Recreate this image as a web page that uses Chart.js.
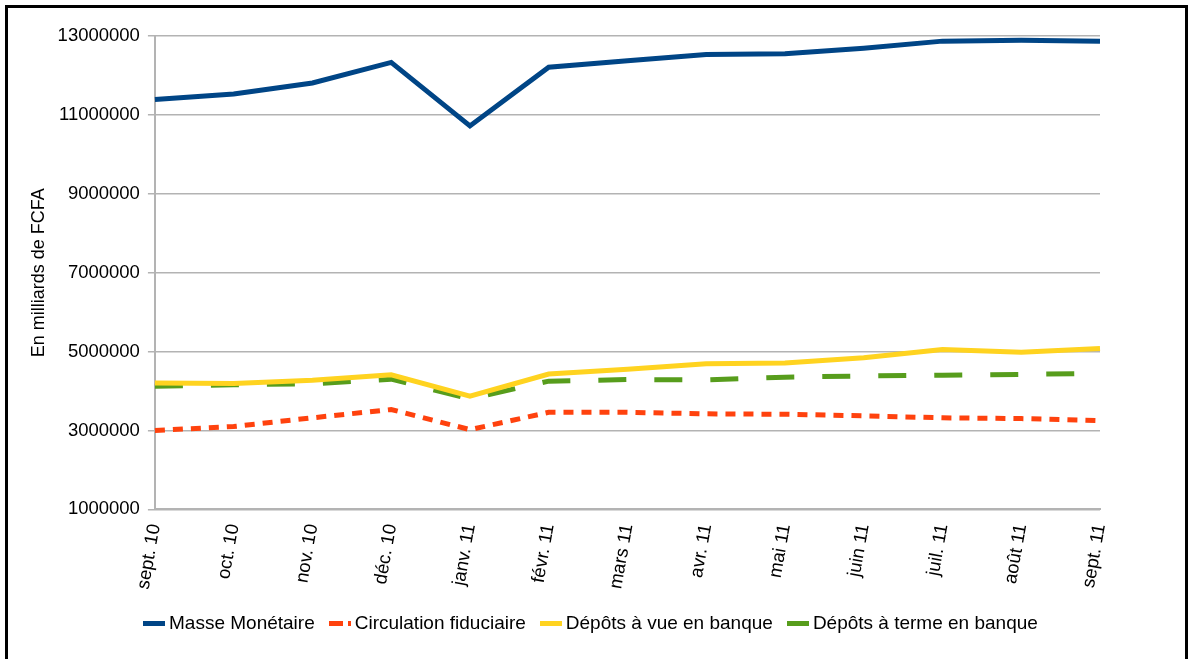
<!DOCTYPE html>
<html>
<head>
<meta charset="utf-8">
<script src="https://cdn.jsdelivr.net/npm/chart.js@4/dist/chart.umd.min.js"></script>
<style>
  html, body { margin: 0; padding: 0; background: #fff; overflow: hidden; }
  #wrap { position: relative; width: 1188px; height: 659px; font-family: "Liberation Sans", Arial, sans-serif; }
  #frame { position: absolute; left: 5px; top: 5px; width: 1177px; height: 700px; border: 3px solid #000; box-sizing: content-box; pointer-events: none; }
  canvas { position: absolute; left: 0; top: 0; }
  #legend { position: absolute; left: 143px; top: 612px; display: flex; align-items: center; font-size: 19px; color: #000; white-space: nowrap; }
  #legend .item { display: flex; align-items: center; margin-right: 14px; }
  #legend .box { width: 22px; height: 5px; margin-right: 4px; }
</style>
</head>
<body>
<div id="wrap">
  <canvas id="moneyChart" width="1188" height="659"></canvas>
  <div id="legend"></div>
  <div id="frame"></div>
</div>
<script>
const months = ['sept. 10', 'oct. 10', 'nov. 10', 'déc. 10', 'janv. 11', 'févr. 11', 'mars 11',
                'avr. 11', 'mai 11', 'juin 11', 'juil. 11', 'août 11', 'sept. 11'];

const masseMonetaire = [11390000, 11530000, 11810000, 12330000, 10720000, 12210000, 12370000,
                        12530000, 12550000, 12690000, 12870000, 12890000, 12870000];
const circulationFiduciaire = [3000000, 3100000, 3320000, 3530000, 3020000, 3460000, 3460000,
                               3420000, 3410000, 3370000, 3320000, 3300000, 3250000];
const depotsVue = [4200000, 4190000, 4270000, 4410000, 3870000, 4430000, 4550000,
                   4690000, 4710000, 4840000, 5050000, 4980000, 5080000];
const depotsTerme = [4120000, 4160000, 4180000, 4300000, 3800000, 4250000, 4290000,
                     4280000, 4350000, 4380000, 4400000, 4420000, 4450000];

const yTicks = [1000000, 3000000, 5000000, 7000000, 9000000, 11000000, 13000000];

Chart.defaults.font.family = '"Liberation Sans", Arial, sans-serif';
Chart.defaults.color = '#000';

function series(label, data, color, dash) {
    return {
        label: label,
        data: data,
        borderColor: color,
        backgroundColor: color,
        borderWidth: 5,
        borderDash: dash,
        borderCapStyle: 'butt',
        pointRadius: 0,
        tension: 0,
        fill: false
    };
}

// legend drawn as html, built from the datasets
function buildLegend(chart) {
    const box = document.getElementById('legend');
    chart.data.datasets.forEach(ds => {
        const item = document.createElement('div');
        item.className = 'item';
        const swatch = document.createElement('span');
        swatch.className = 'box';
        // short dashes show a gap inside the swatch, long ones look solid
        if (ds.borderDash.length && ds.borderDash[0] < 22) {
            swatch.style.background = 'linear-gradient(to right, ' + ds.borderColor + ' 0 14px, transparent 14px 19px, ' + ds.borderColor + ' 19px 22px)';
        } else {
            swatch.style.background = ds.borderColor;
        }
        const txt = document.createElement('span');
        txt.textContent = ds.label;
        item.appendChild(swatch);
        item.appendChild(txt);
        box.appendChild(item);
    });
}

const ctx = document.getElementById('moneyChart').getContext('2d');
const chart = new Chart(ctx, {
    type: 'line',
    data: {
        labels: months,
        datasets: [
            series('Masse Monétaire', masseMonetaire, '#004586', []),
            series('Circulation fiduciaire', circulationFiduciaire, '#ff420e', [10, 8]),
            series('Dépôts à vue en banque', depotsVue, '#ffd320', []),
            series('Dépôts à terme en banque', depotsTerme, '#579d1c', [28, 28])
        ]
    },
    options: {
        responsive: false,
        animation: false,
        layout: { padding: { left: 28, right: 88, top: 36, bottom: 62 } },
        plugins: {
            legend: { display: false },
            tooltip: { enabled: false }
        },
        scales: {
            x: {
                offset: false,
                grid: { display: false, drawTicks: true, tickLength: 7, tickColor: '#b3b3b3' },
                border: { color: '#b3b3b3', width: 2 },
                ticks: {
                    font: { size: 18.5 },
                    minRotation: 80,
                    maxRotation: 80,
                    autoSkip: false,
                    padding: 6
                }
            },
            y: {
                min: 1000000,
                max: 13000000,
                afterBuildTicks: function(axis) {
                    axis.ticks = yTicks.map(v => ({ value: v }));
                },
                grid: { color: '#b3b3b3', lineWidth: 1.5, tickLength: 7, tickColor: '#b3b3b3' },
                border: { color: '#b3b3b3', width: 2 },
                ticks: {
                    font: { size: 18.5 },
                    padding: 8,
                    callback: v => String(v)
                },
                title: {
                    display: true,
                    text: 'En milliards de FCFA',
                    font: { size: 18 },
                    padding: { top: 0, bottom: 0 }
                }
            }
        }
    }
});
buildLegend(chart);
</script>
</body>
</html>
